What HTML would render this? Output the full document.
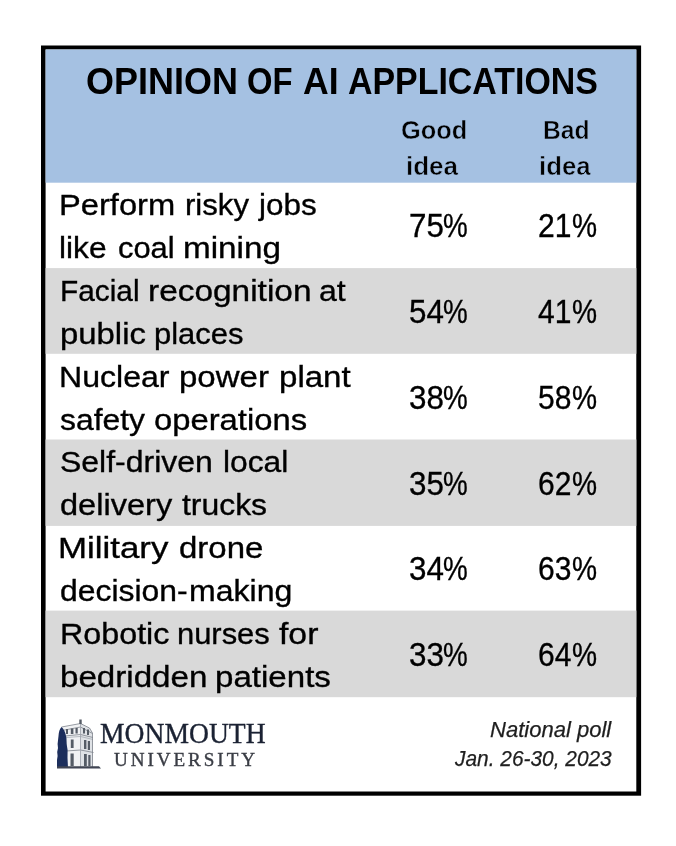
<!DOCTYPE html>
<html><head><meta charset="utf-8">
<style>
html,body{margin:0;padding:0;background:#fff;width:676px;height:846px;overflow:hidden;position:relative}
*{box-sizing:border-box}
.t{position:absolute;white-space:nowrap;line-height:1;transform-origin:0 0}
#bg{position:absolute;left:0;top:0}
</style></head><body>
<svg id="bg" width="676" height="846" viewBox="0 0 676 846">
<rect x="41" y="45.5" width="600.1" height="750.2" fill="#000"/>
<rect x="45.6" y="49.5" width="590.7" height="742" fill="#fff"/>
<rect x="45.6" y="49.5" width="590.7" height="133.2" fill="#a5c1e2"/>
<rect x="45.6" y="268.1" width="590.7" height="85.7" fill="#d9d9d9"/>
<rect x="45.6" y="439.5" width="590.7" height="86.4" fill="#d9d9d9"/>
<rect x="45.6" y="610.6" width="590.7" height="86.6" fill="#d9d9d9"/>
</svg>

<div class="t" id="e0" style="left:85.84px;top:63.00px;font-family:'Liberation Sans',sans-serif;font-size:37px;font-weight:bold;font-style:normal;color:#000;letter-spacing:0px;transform:scaleX(0.9719)">OPINION<span class="bm" style="display:inline-block;width:0;height:0"></span></div>
<div class="t" id="e1" style="left:246.82px;top:63.00px;font-family:'Liberation Sans',sans-serif;font-size:37px;font-weight:bold;font-style:normal;color:#000;letter-spacing:0px;transform:scaleX(0.8858)">OF<span class="bm" style="display:inline-block;width:0;height:0"></span></div>
<div class="t" id="e2" style="left:303.06px;top:63.00px;font-family:'Liberation Sans',sans-serif;font-size:37px;font-weight:bold;font-style:normal;color:#000;letter-spacing:0px;transform:scaleX(0.9606)">AI<span class="bm" style="display:inline-block;width:0;height:0"></span></div>
<div class="t" id="e3" style="left:347.73px;top:63.00px;font-family:'Liberation Sans',sans-serif;font-size:37px;font-weight:bold;font-style:normal;color:#000;letter-spacing:0px;transform:scaleX(0.9163)">APPLICATIONS<span class="bm" style="display:inline-block;width:0;height:0"></span></div>
<div class="t" id="e4" style="left:400.83px;top:117.00px;font-family:'Liberation Sans',sans-serif;font-size:26px;font-weight:bold;font-style:normal;color:#000;letter-spacing:0px;-webkit-text-stroke:0.5px #a5c1e2;transform:scaleX(0.9770)">Good<span class="bm" style="display:inline-block;width:0;height:0"></span></div>
<div class="t" id="e5" style="left:406.39px;top:153.00px;font-family:'Liberation Sans',sans-serif;font-size:26px;font-weight:bold;font-style:normal;color:#000;letter-spacing:0px;-webkit-text-stroke:0.5px #a5c1e2;transform:scaleX(1.0004)">idea<span class="bm" style="display:inline-block;width:0;height:0"></span></div>
<div class="t" id="e6" style="left:542.92px;top:117.00px;font-family:'Liberation Sans',sans-serif;font-size:26px;font-weight:bold;font-style:normal;color:#000;letter-spacing:0px;-webkit-text-stroke:0.5px #a5c1e2;transform:scaleX(0.9489)">Bad<span class="bm" style="display:inline-block;width:0;height:0"></span></div>
<div class="t" id="e7" style="left:539.02px;top:153.00px;font-family:'Liberation Sans',sans-serif;font-size:26px;font-weight:bold;font-style:normal;color:#000;letter-spacing:0px;-webkit-text-stroke:0.5px #a5c1e2;transform:scaleX(0.9901)">idea<span class="bm" style="display:inline-block;width:0;height:0"></span></div>
<div class="t" id="e8" style="left:59.18px;top:190.00px;font-family:'Liberation Sans',sans-serif;font-size:30px;font-weight:normal;font-style:normal;color:#000;letter-spacing:0px;-webkit-text-stroke:0.35px #000;transform:scaleX(1.0893)">Perform<span class="bm" style="display:inline-block;width:0;height:0"></span></div>
<div class="t" id="e9" style="left:185.13px;top:190.00px;font-family:'Liberation Sans',sans-serif;font-size:30px;font-weight:normal;font-style:normal;color:#000;letter-spacing:0px;-webkit-text-stroke:0.35px #000;transform:scaleX(1.0383)">risky<span class="bm" style="display:inline-block;width:0;height:0"></span></div>
<div class="t" id="e10" style="left:259.23px;top:190.00px;font-family:'Liberation Sans',sans-serif;font-size:30px;font-weight:normal;font-style:normal;color:#000;letter-spacing:0px;-webkit-text-stroke:0.35px #000;transform:scaleX(1.0474)">jobs<span class="bm" style="display:inline-block;width:0;height:0"></span></div>
<div class="t" id="e11" style="left:59.32px;top:233.00px;font-family:'Liberation Sans',sans-serif;font-size:30px;font-weight:normal;font-style:normal;color:#000;letter-spacing:0px;-webkit-text-stroke:0.35px #000;transform:scaleX(1.0561)">like<span class="bm" style="display:inline-block;width:0;height:0"></span></div>
<div class="t" id="e12" style="left:117.56px;top:233.00px;font-family:'Liberation Sans',sans-serif;font-size:30px;font-weight:normal;font-style:normal;color:#000;letter-spacing:0px;-webkit-text-stroke:0.35px #000;transform:scaleX(1.0289)">coal<span class="bm" style="display:inline-block;width:0;height:0"></span></div>
<div class="t" id="e13" style="left:183.25px;top:233.00px;font-family:'Liberation Sans',sans-serif;font-size:30px;font-weight:normal;font-style:normal;color:#000;letter-spacing:0px;-webkit-text-stroke:0.35px #000;transform:scaleX(1.1083)">mining<span class="bm" style="display:inline-block;width:0;height:0"></span></div>
<div class="t" id="e14" style="left:59.81px;top:276.00px;font-family:'Liberation Sans',sans-serif;font-size:30px;font-weight:normal;font-style:normal;color:#000;letter-spacing:0px;-webkit-text-stroke:0.35px #000;transform:scaleX(0.9935)">Facial<span class="bm" style="display:inline-block;width:0;height:0"></span></div>
<div class="t" id="e15" style="left:147.77px;top:276.00px;font-family:'Liberation Sans',sans-serif;font-size:30px;font-weight:normal;font-style:normal;color:#000;letter-spacing:0px;-webkit-text-stroke:0.35px #000;transform:scaleX(1.1140)">recognition<span class="bm" style="display:inline-block;width:0;height:0"></span></div>
<div class="t" id="e16" style="left:319.30px;top:276.00px;font-family:'Liberation Sans',sans-serif;font-size:30px;font-weight:normal;font-style:normal;color:#000;letter-spacing:0px;-webkit-text-stroke:0.35px #000;transform:scaleX(1.0675)">at<span class="bm" style="display:inline-block;width:0;height:0"></span></div>
<div class="t" id="e17" style="left:59.67px;top:319.00px;font-family:'Liberation Sans',sans-serif;font-size:30px;font-weight:normal;font-style:normal;color:#000;letter-spacing:0px;-webkit-text-stroke:0.35px #000;transform:scaleX(1.0961)">public<span class="bm" style="display:inline-block;width:0;height:0"></span></div>
<div class="t" id="e18" style="left:153.95px;top:319.00px;font-family:'Liberation Sans',sans-serif;font-size:30px;font-weight:normal;font-style:normal;color:#000;letter-spacing:0px;-webkit-text-stroke:0.35px #000;transform:scaleX(1.0321)">places<span class="bm" style="display:inline-block;width:0;height:0"></span></div>
<div class="t" id="e19" style="left:58.86px;top:362.00px;font-family:'Liberation Sans',sans-serif;font-size:30px;font-weight:normal;font-style:normal;color:#000;letter-spacing:0px;-webkit-text-stroke:0.35px #000;transform:scaleX(1.0693)">Nuclear<span class="bm" style="display:inline-block;width:0;height:0"></span></div>
<div class="t" id="e20" style="left:178.85px;top:362.00px;font-family:'Liberation Sans',sans-serif;font-size:30px;font-weight:normal;font-style:normal;color:#000;letter-spacing:0px;-webkit-text-stroke:0.35px #000;transform:scaleX(1.1000)">power<span class="bm" style="display:inline-block;width:0;height:0"></span></div>
<div class="t" id="e21" style="left:278.84px;top:362.00px;font-family:'Liberation Sans',sans-serif;font-size:30px;font-weight:normal;font-style:normal;color:#000;letter-spacing:0px;-webkit-text-stroke:0.35px #000;transform:scaleX(1.1017)">plant<span class="bm" style="display:inline-block;width:0;height:0"></span></div>
<div class="t" id="e22" style="left:59.96px;top:405.00px;font-family:'Liberation Sans',sans-serif;font-size:30px;font-weight:normal;font-style:normal;color:#000;letter-spacing:0px;-webkit-text-stroke:0.35px #000;transform:scaleX(1.0614)">safety<span class="bm" style="display:inline-block;width:0;height:0"></span></div>
<div class="t" id="e23" style="left:153.91px;top:405.00px;font-family:'Liberation Sans',sans-serif;font-size:30px;font-weight:normal;font-style:normal;color:#000;letter-spacing:0px;-webkit-text-stroke:0.35px #000;transform:scaleX(1.0928)">operations<span class="bm" style="display:inline-block;width:0;height:0"></span></div>
<div class="t" id="e24" style="left:60.12px;top:447.00px;font-family:'Liberation Sans',sans-serif;font-size:30px;font-weight:normal;font-style:normal;color:#000;letter-spacing:0px;-webkit-text-stroke:0.35px #000;transform:scaleX(1.0660)">Self-driven<span class="bm" style="display:inline-block;width:0;height:0"></span></div>
<div class="t" id="e25" style="left:222.69px;top:447.00px;font-family:'Liberation Sans',sans-serif;font-size:30px;font-weight:normal;font-style:normal;color:#000;letter-spacing:0px;-webkit-text-stroke:0.35px #000;transform:scaleX(1.0587)">local<span class="bm" style="display:inline-block;width:0;height:0"></span></div>
<div class="t" id="e26" style="left:60.10px;top:490.00px;font-family:'Liberation Sans',sans-serif;font-size:30px;font-weight:normal;font-style:normal;color:#000;letter-spacing:0px;-webkit-text-stroke:0.35px #000;transform:scaleX(1.0853)">delivery<span class="bm" style="display:inline-block;width:0;height:0"></span></div>
<div class="t" id="e27" style="left:182.00px;top:490.00px;font-family:'Liberation Sans',sans-serif;font-size:30px;font-weight:normal;font-style:normal;color:#000;letter-spacing:0px;-webkit-text-stroke:0.35px #000;transform:scaleX(1.0633)">trucks<span class="bm" style="display:inline-block;width:0;height:0"></span></div>
<div class="t" id="e28" style="left:58.18px;top:533.00px;font-family:'Liberation Sans',sans-serif;font-size:30px;font-weight:normal;font-style:normal;color:#000;letter-spacing:0px;-webkit-text-stroke:0.35px #000;transform:scaleX(1.1624)">Military<span class="bm" style="display:inline-block;width:0;height:0"></span></div>
<div class="t" id="e29" style="left:178.71px;top:533.00px;font-family:'Liberation Sans',sans-serif;font-size:30px;font-weight:normal;font-style:normal;color:#000;letter-spacing:0px;-webkit-text-stroke:0.35px #000;transform:scaleX(1.0988)">drone<span class="bm" style="display:inline-block;width:0;height:0"></span></div>
<div class="t" id="e30" style="left:60.12px;top:576.00px;font-family:'Liberation Sans',sans-serif;font-size:30px;font-weight:normal;font-style:normal;color:#000;letter-spacing:0px;-webkit-text-stroke:0.35px #000;transform:scaleX(1.0627)">decision-<span class="bm" style="display:inline-block;width:0;height:0"></span></div>
<div class="t" id="e31" style="left:188.67px;top:576.00px;font-family:'Liberation Sans',sans-serif;font-size:30px;font-weight:normal;font-style:normal;color:#000;letter-spacing:0px;-webkit-text-stroke:0.35px #000;transform:scaleX(1.0688)">making<span class="bm" style="display:inline-block;width:0;height:0"></span></div>
<div class="t" id="e32" style="left:59.62px;top:619.00px;font-family:'Liberation Sans',sans-serif;font-size:30px;font-weight:normal;font-style:normal;color:#000;letter-spacing:0px;-webkit-text-stroke:0.35px #000;transform:scaleX(1.0758)">Robotic<span class="bm" style="display:inline-block;width:0;height:0"></span></div>
<div class="t" id="e33" style="left:177.13px;top:619.00px;font-family:'Liberation Sans',sans-serif;font-size:30px;font-weight:normal;font-style:normal;color:#000;letter-spacing:0px;-webkit-text-stroke:0.35px #000;transform:scaleX(1.0300)">nurses<span class="bm" style="display:inline-block;width:0;height:0"></span></div>
<div class="t" id="e34" style="left:279.34px;top:619.00px;font-family:'Liberation Sans',sans-serif;font-size:30px;font-weight:normal;font-style:normal;color:#000;letter-spacing:0px;-webkit-text-stroke:0.35px #000;transform:scaleX(1.1243)">for<span class="bm" style="display:inline-block;width:0;height:0"></span></div>
<div class="t" id="e35" style="left:59.61px;top:662.00px;font-family:'Liberation Sans',sans-serif;font-size:30px;font-weight:normal;font-style:normal;color:#000;letter-spacing:0px;-webkit-text-stroke:0.35px #000;transform:scaleX(1.1046)">bedridden<span class="bm" style="display:inline-block;width:0;height:0"></span></div>
<div class="t" id="e36" style="left:215.08px;top:662.00px;font-family:'Liberation Sans',sans-serif;font-size:30px;font-weight:normal;font-style:normal;color:#000;letter-spacing:0px;-webkit-text-stroke:0.35px #000;transform:scaleX(1.1029)">patients<span class="bm" style="display:inline-block;width:0;height:0"></span></div>
<div class="t" id="e37" style="left:409.26px;top:210.00px;font-family:'Liberation Sans',sans-serif;font-size:32.5px;font-weight:normal;font-style:normal;color:#000;letter-spacing:0px;-webkit-text-stroke:0.35px #000;transform:scaleX(0.9650)">75<span class="bm" style="display:inline-block;width:0;height:0"></span></div>
<div class="t" id="e38" style="left:443.46px;top:210.00px;font-family:'Liberation Sans',sans-serif;font-size:32.5px;font-weight:normal;font-style:normal;color:#000;letter-spacing:0px;-webkit-text-stroke:0.35px #000;transform:scaleX(0.8556)">%<span class="bm" style="display:inline-block;width:0;height:0"></span></div>
<div class="t" id="e39" style="left:538.28px;top:210.00px;font-family:'Liberation Sans',sans-serif;font-size:32.5px;font-weight:normal;font-style:normal;color:#000;letter-spacing:0px;-webkit-text-stroke:0.35px #000;transform:scaleX(0.9240)">21<span class="bm" style="display:inline-block;width:0;height:0"></span></div>
<div class="t" id="e40" style="left:572.13px;top:210.00px;font-family:'Liberation Sans',sans-serif;font-size:32.5px;font-weight:normal;font-style:normal;color:#000;letter-spacing:0px;-webkit-text-stroke:0.35px #000;transform:scaleX(0.8675)">%<span class="bm" style="display:inline-block;width:0;height:0"></span></div>
<div class="t" id="e41" style="left:409.26px;top:296.00px;font-family:'Liberation Sans',sans-serif;font-size:32.5px;font-weight:normal;font-style:normal;color:#000;letter-spacing:0px;-webkit-text-stroke:0.35px #000;transform:scaleX(0.9650)">54<span class="bm" style="display:inline-block;width:0;height:0"></span></div>
<div class="t" id="e42" style="left:443.46px;top:296.00px;font-family:'Liberation Sans',sans-serif;font-size:32.5px;font-weight:normal;font-style:normal;color:#000;letter-spacing:0px;-webkit-text-stroke:0.35px #000;transform:scaleX(0.8556)">%<span class="bm" style="display:inline-block;width:0;height:0"></span></div>
<div class="t" id="e43" style="left:538.28px;top:296.00px;font-family:'Liberation Sans',sans-serif;font-size:32.5px;font-weight:normal;font-style:normal;color:#000;letter-spacing:0px;-webkit-text-stroke:0.35px #000;transform:scaleX(0.9240)">41<span class="bm" style="display:inline-block;width:0;height:0"></span></div>
<div class="t" id="e44" style="left:572.13px;top:296.00px;font-family:'Liberation Sans',sans-serif;font-size:32.5px;font-weight:normal;font-style:normal;color:#000;letter-spacing:0px;-webkit-text-stroke:0.35px #000;transform:scaleX(0.8675)">%<span class="bm" style="display:inline-block;width:0;height:0"></span></div>
<div class="t" id="e45" style="left:409.26px;top:382.00px;font-family:'Liberation Sans',sans-serif;font-size:32.5px;font-weight:normal;font-style:normal;color:#000;letter-spacing:0px;-webkit-text-stroke:0.35px #000;transform:scaleX(0.9650)">38<span class="bm" style="display:inline-block;width:0;height:0"></span></div>
<div class="t" id="e46" style="left:443.46px;top:382.00px;font-family:'Liberation Sans',sans-serif;font-size:32.5px;font-weight:normal;font-style:normal;color:#000;letter-spacing:0px;-webkit-text-stroke:0.35px #000;transform:scaleX(0.8556)">%<span class="bm" style="display:inline-block;width:0;height:0"></span></div>
<div class="t" id="e47" style="left:538.28px;top:382.00px;font-family:'Liberation Sans',sans-serif;font-size:32.5px;font-weight:normal;font-style:normal;color:#000;letter-spacing:0px;-webkit-text-stroke:0.35px #000;transform:scaleX(0.9240)">58<span class="bm" style="display:inline-block;width:0;height:0"></span></div>
<div class="t" id="e48" style="left:572.13px;top:382.00px;font-family:'Liberation Sans',sans-serif;font-size:32.5px;font-weight:normal;font-style:normal;color:#000;letter-spacing:0px;-webkit-text-stroke:0.35px #000;transform:scaleX(0.8675)">%<span class="bm" style="display:inline-block;width:0;height:0"></span></div>
<div class="t" id="e49" style="left:409.26px;top:468.00px;font-family:'Liberation Sans',sans-serif;font-size:32.5px;font-weight:normal;font-style:normal;color:#000;letter-spacing:0px;-webkit-text-stroke:0.35px #000;transform:scaleX(0.9650)">35<span class="bm" style="display:inline-block;width:0;height:0"></span></div>
<div class="t" id="e50" style="left:443.46px;top:468.00px;font-family:'Liberation Sans',sans-serif;font-size:32.5px;font-weight:normal;font-style:normal;color:#000;letter-spacing:0px;-webkit-text-stroke:0.35px #000;transform:scaleX(0.8556)">%<span class="bm" style="display:inline-block;width:0;height:0"></span></div>
<div class="t" id="e51" style="left:538.28px;top:468.00px;font-family:'Liberation Sans',sans-serif;font-size:32.5px;font-weight:normal;font-style:normal;color:#000;letter-spacing:0px;-webkit-text-stroke:0.35px #000;transform:scaleX(0.9240)">62<span class="bm" style="display:inline-block;width:0;height:0"></span></div>
<div class="t" id="e52" style="left:572.13px;top:468.00px;font-family:'Liberation Sans',sans-serif;font-size:32.5px;font-weight:normal;font-style:normal;color:#000;letter-spacing:0px;-webkit-text-stroke:0.35px #000;transform:scaleX(0.8675)">%<span class="bm" style="display:inline-block;width:0;height:0"></span></div>
<div class="t" id="e53" style="left:409.26px;top:553.00px;font-family:'Liberation Sans',sans-serif;font-size:32.5px;font-weight:normal;font-style:normal;color:#000;letter-spacing:0px;-webkit-text-stroke:0.35px #000;transform:scaleX(0.9650)">34<span class="bm" style="display:inline-block;width:0;height:0"></span></div>
<div class="t" id="e54" style="left:443.46px;top:553.00px;font-family:'Liberation Sans',sans-serif;font-size:32.5px;font-weight:normal;font-style:normal;color:#000;letter-spacing:0px;-webkit-text-stroke:0.35px #000;transform:scaleX(0.8556)">%<span class="bm" style="display:inline-block;width:0;height:0"></span></div>
<div class="t" id="e55" style="left:538.28px;top:553.00px;font-family:'Liberation Sans',sans-serif;font-size:32.5px;font-weight:normal;font-style:normal;color:#000;letter-spacing:0px;-webkit-text-stroke:0.35px #000;transform:scaleX(0.9240)">63<span class="bm" style="display:inline-block;width:0;height:0"></span></div>
<div class="t" id="e56" style="left:572.13px;top:553.00px;font-family:'Liberation Sans',sans-serif;font-size:32.5px;font-weight:normal;font-style:normal;color:#000;letter-spacing:0px;-webkit-text-stroke:0.35px #000;transform:scaleX(0.8675)">%<span class="bm" style="display:inline-block;width:0;height:0"></span></div>
<div class="t" id="e57" style="left:409.26px;top:639.00px;font-family:'Liberation Sans',sans-serif;font-size:32.5px;font-weight:normal;font-style:normal;color:#000;letter-spacing:0px;-webkit-text-stroke:0.35px #000;transform:scaleX(0.9650)">33<span class="bm" style="display:inline-block;width:0;height:0"></span></div>
<div class="t" id="e58" style="left:443.46px;top:639.00px;font-family:'Liberation Sans',sans-serif;font-size:32.5px;font-weight:normal;font-style:normal;color:#000;letter-spacing:0px;-webkit-text-stroke:0.35px #000;transform:scaleX(0.8556)">%<span class="bm" style="display:inline-block;width:0;height:0"></span></div>
<div class="t" id="e59" style="left:538.28px;top:639.00px;font-family:'Liberation Sans',sans-serif;font-size:32.5px;font-weight:normal;font-style:normal;color:#000;letter-spacing:0px;-webkit-text-stroke:0.35px #000;transform:scaleX(0.9240)">64<span class="bm" style="display:inline-block;width:0;height:0"></span></div>
<div class="t" id="e60" style="left:572.13px;top:639.00px;font-family:'Liberation Sans',sans-serif;font-size:32.5px;font-weight:normal;font-style:normal;color:#000;letter-spacing:0px;-webkit-text-stroke:0.35px #000;transform:scaleX(0.8675)">%<span class="bm" style="display:inline-block;width:0;height:0"></span></div>
<div class="t" id="e61" style="left:100.03px;top:719.00px;font-family:'Liberation Serif',serif;font-size:29.5px;font-weight:normal;font-style:normal;color:#1b2233;letter-spacing:0px;-webkit-text-stroke:0.35px #1b2233;transform:scaleX(0.9358)">MONMOUTH<span class="bm" style="display:inline-block;width:0;height:0"></span></div>
<div class="t" id="e62" style="left:113.60px;top:750.00px;font-family:'Liberation Serif',serif;font-size:19.4px;font-weight:normal;font-style:normal;color:#3a3d45;letter-spacing:3px;-webkit-text-stroke:0.4px #3a3d45;transform:scaleX(0.9839)">UNIVERSITY<span class="bm" style="display:inline-block;width:0;height:0"></span></div>
<div class="t" id="e63" style="left:489.80px;top:719.00px;font-family:'Liberation Sans',sans-serif;font-size:22px;font-weight:normal;font-style:italic;color:#1e1e1e;letter-spacing:0px;-webkit-text-stroke:0.25px #1e1e1e;transform:scaleX(1.0010)">National poll<span class="bm" style="display:inline-block;width:0;height:0"></span></div>
<div class="t" id="e64" style="left:454.82px;top:748.00px;font-family:'Liberation Sans',sans-serif;font-size:22px;font-weight:normal;font-style:italic;color:#1e1e1e;letter-spacing:0px;-webkit-text-stroke:0.25px #1e1e1e;transform:scaleX(0.9491)">Jan. 26-30, 2023<span class="bm" style="display:inline-block;width:0;height:0"></span></div>
<svg style="position:absolute;left:0;top:0" width="676" height="846" viewBox="0 0 676 846">
<defs><filter id="bl" x="-10%" y="-10%" width="120%" height="120%"><feGaussianBlur stdDeviation="0.45"/></filter></defs>
<g filter="url(#bl)">
<path d="M62 727 L80.5 723.5 L89.5 728 L92.5 733 L93 767 L66 767 L66 736 L62 731 Z" fill="#f1f2f4"/>
<path d="M80.5 723.5 L89.5 728 L92.5 733 L93 767 L80.5 767 Z" fill="#dfe2e6"/>
<g fill="none" stroke="#7d838c" stroke-width="0.8">
<path d="M61.5 727 L80.5 723.5 L89.5 728 L92.5 733"/>
<path d="M62 730.5 L80.5 727 L92.5 733.5"/>
<path d="M64.5 736 L80.5 734.5 L93 737.5"/>
<path d="M66 737.5 L80.5 736.5 L93 739.5" stroke="#a5abb3"/>
<path d="M66 751 L80.5 750 L93.5 752.5"/>
<path d="M80.5 723 V767" stroke="#9aa0a8"/>
<path d="M92.5 733 V767"/>
<path d="M66.5 736 V767" stroke="#b5bac1"/>
</g>
<g fill="#545b66">
<rect x="79.3" y="719.5" width="2.4" height="4.5"/>
<rect x="66" y="729" width="2" height="5"/>
<rect x="70.8" y="728.5" width="2.6" height="5.5"/>
<rect x="75.5" y="728" width="2.2" height="5.5"/>
<rect x="83" y="728" width="2" height="5.5"/>
<rect x="87" y="729.5" width="2" height="5.5"/>
<rect x="70.8" y="739.5" width="2.8" height="8.5"/>
<rect x="84" y="740" width="2.4" height="9"/>
<rect x="87.8" y="741" width="2.2" height="9"/>
<rect x="70.5" y="753.5" width="3.2" height="12.5"/>
<rect x="84" y="754" width="2.8" height="12"/>
<rect x="88.3" y="755" width="2.2" height="11"/>
</g>
<path d="M61.5 727 C59.5 729 58.8 732 58.5 736 L57.6 744 L58 748 L57.2 752 L57.6 756 L57 760 L57 768 L68 768 L67.5 758 L67.6 750 L66.6 744 L66.2 737 C65.5 732 63.5 728.5 61.5 727 Z" fill="#1b2d5c"/>
<path d="M57 766.3 H99 L101 768.6 H57 Z" fill="#3f4552"/>
</g>
</svg>

</body></html>
